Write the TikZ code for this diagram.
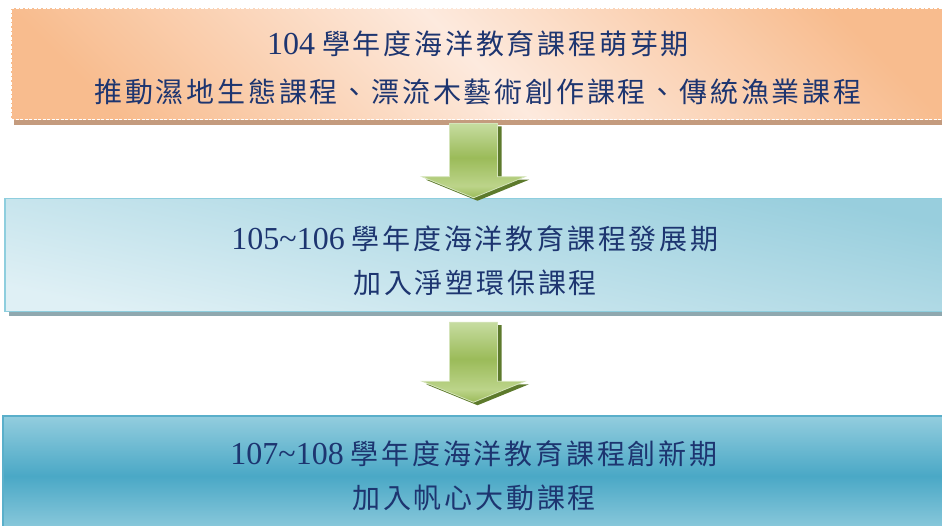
\documentclass[tikz,border=0pt]{standalone}
\usepackage{fontspec}
\setmainfont{Liberation Serif}
\newfontfamily\cjk[LetterSpace=10]{Noto Sans CJK TC}
\usetikzlibrary{positioning, calc, shadows}

\definecolor{ink}{HTML}{1D3570}
\definecolor{orgdark}{HTML}{F8BC8E}
\definecolor{orglight}{HTML}{FDEADE}
\definecolor{orgshadow}{HTML}{C49B7E}
\definecolor{bluedark}{HTML}{98CEDD}
\definecolor{bluelight}{HTML}{DFF0F5}
\definecolor{blueline}{HTML}{8ECEDE}
\definecolor{blueshadow}{HTML}{8FA8AF}
\definecolor{tealdark}{HTML}{4AA8C6}
\definecolor{teallight}{HTML}{93CDDE}
\definecolor{tealline}{HTML}{5AAFCA}
\definecolor{grnlight}{HTML}{C6DCA0}
\definecolor{grnmid}{HTML}{9BBB59}
\definecolor{grnhead}{HTML}{BCD48A}
\definecolor{grnline}{HTML}{D5E4BB}
\definecolor{grnshadow}{HTML}{5D7A2C}

\pgfdeclareverticalshading{peachband}{100bp}{color(0bp)=(orgdark); color(22bp)=(orgdark);
  color(50bp)=(orglight); color(78bp)=(orgdark); color(100bp)=(orgdark)}
\pgfdeclareverticalshading{tealband}{100bp}{color(0bp)=(teallight); color(25bp)=(teallight);
  color(50bp)=(tealdark); color(75bp)=(teallight); color(100bp)=(teallight)}
\pgfdeclareverticalshading{greenband}{100bp}{color(0bp)=(grnmid); color(25bp)=(grnmid);
  color(33bp)=(grnhead); color(52bp)=(grnmid); color(75bp)=(grnlight); color(100bp)=(grnlight)}

% block arrow from top coordinate #2 down to tip #3
\newcommand{\arrowpath}[3]{%
  \path[#1] let \p1=(#2), \p2=(#3) in
    (\x1-24pt,\y1) -- (\x1+24pt,\y1) -- (\x1+24pt,\y2+21pt)
    -- (\x1+51.5pt,\y2+21pt) -- (\x2,\y2) -- (\x1-51.5pt,\y2+21pt)
    -- (\x1-24pt,\y2+21pt) -- cycle;}
\newcommand{\flowarrow}[2]{%
  \arrowpath{fill=grnshadow}{$(#1)+(4,3)$}{$(#2)+(4,3)$}
  \arrowpath{arrowbody}{#1}{#2}}
\newcommand{\yr}[1]{{\fontsize{32}{44}\selectfont #1}}

\begin{document}
\begin{tikzpicture}[x=1pt, y=-1pt,
  stage/.style={rectangle, inner sep=0pt, align=center, text=ink,
    font=\fontsize{28}{44}\selectfont},
  stageA/.style={stage, minimum width=934pt, minimum height=111pt,
    shade, shading=peachband, shading angle=-45, draw=white, line width=1pt,
    dash pattern=on 3pt off 1.5pt,
    drop shadow={shadow xshift=3pt, shadow yshift=-5pt, fill=orgshadow, opacity=1}},
  stageB/.style={stage, minimum width=940pt, minimum height=113pt,
    top color=bluedark, bottom color=bluelight, shading angle=-12,
    draw=blueline, line width=1.5pt,
    drop shadow={shadow xshift=4pt, shadow yshift=-5pt, fill=blueshadow, opacity=1}},
  stageC/.style={stage, minimum width=942pt, minimum height=120pt,
    shade, shading=tealband, draw=tealline, line width=1.5pt},
  arrowbody/.style={shade, shading=greenband, draw=grnline, line width=0.8pt}]
\useasboundingbox (0,0) rectangle (942,526);

\node[stageA] (sprout) at (478,64.5)
  {\rule{0pt}{31pt}\yr{104} {\cjk 學年度海洋教育課程萌芽期}\\[4pt]
   {\cjk 推動濕地生態課程、漂流木藝術創作課程、傳統漁業課程}};
\node[stageB] (grow) at (475,255)
  {\rule{0pt}{35pt}\yr{105\textasciitilde106} {\cjk 學年度海洋教育課程發展期}\\
   {\cjk 加入淨塑環保課程}};
\node[stageC] (renew) at (474,476)
  {\yr{107\textasciitilde108} {\cjk 學年度海洋教育課程創新期}\\
   {\cjk 加入帆心大動課程}};

\coordinate (top1) at ($(sprout.south)+(-4.5,3)$);
\coordinate (tip1) at (top1 |- grow.north);
\coordinate (top2) at ($(grow.south)+(-1.5,10)$);
\coordinate (tip2) at ($(top2)+(0,80)$);

\flowarrow{top1}{tip1}
\flowarrow{top2}{tip2}
\end{tikzpicture}
\end{document}
